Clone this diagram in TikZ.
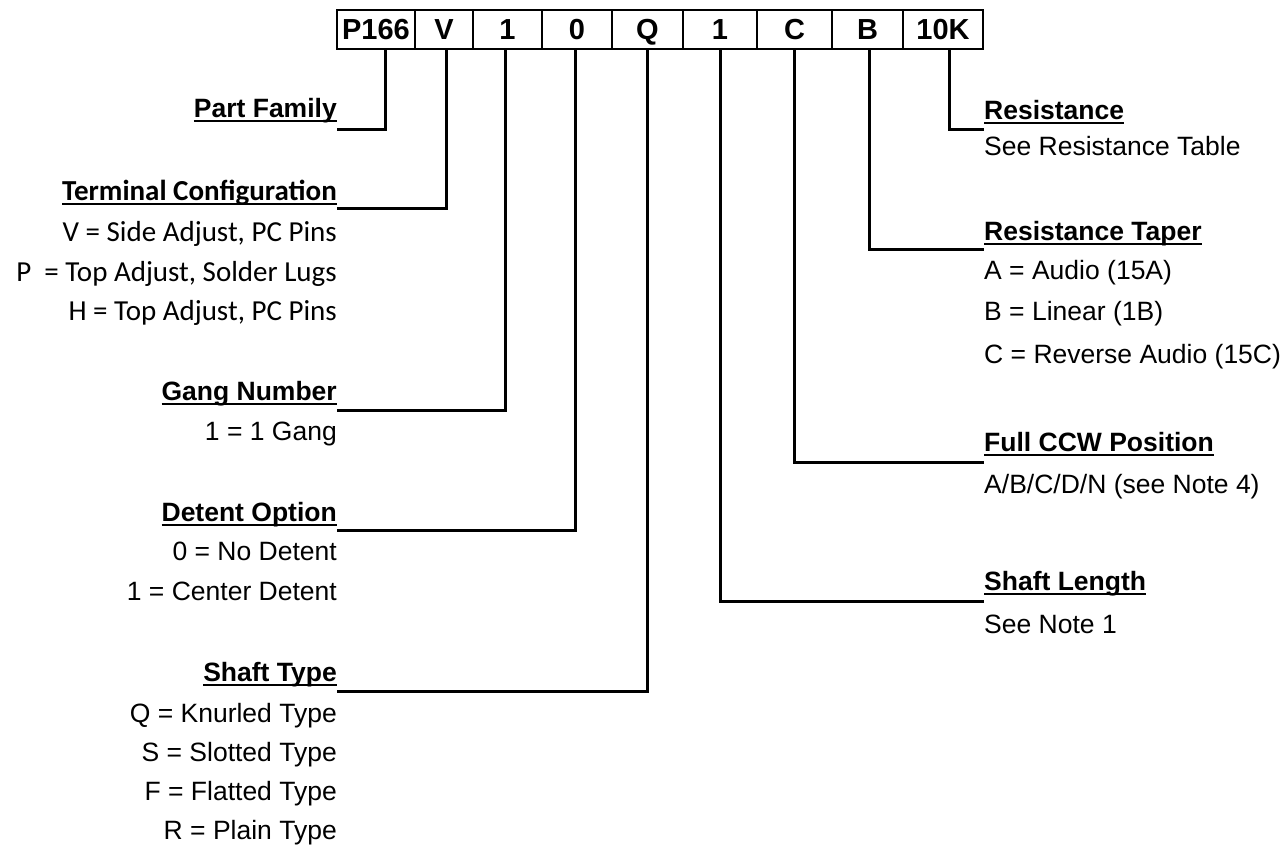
\documentclass[tikz,border=0pt]{standalone}
\usepackage{fontspec}
\setmainfont{Liberation Sans}
\newfontfamily\calibri{Carlito}
\usetikzlibrary{positioning}

% underline that cuts through descenders, like the word processor does
\newcommand{\undl}[1]{\setbox0\hbox{#1}\rlap{\rule[-4.5pt]{\wd0}{2pt}}\box0}

\tikzset{
  codebox/.style={draw, line width=2pt, outer sep=0pt, inner sep=0pt,
    minimum height=39pt, text height=20pt, text depth=0pt,
    font=\fontsize{29}{29}\selectfont\bfseries},
  lefttitle/.style={anchor=base east, inner sep=0pt, font=\fontsize{26.5}{30}\selectfont\bfseries},
  leftitem/.style={anchor=base east, inner sep=0pt, font=\fontsize{26.5}{30}\selectfont},
  righttitle/.style={anchor=base west, inner sep=0pt, font=\fontsize{26.5}{30}\selectfont\bfseries},
  rightitem/.style={anchor=base west, inner sep=0pt, font=\fontsize{26.5}{30}\selectfont},
  leader/.style={line width=3pt}
}

\begin{document}
\begin{tikzpicture}[x=1pt,y=-1pt]
\useasboundingbox (0,0) rectangle (1286,844);

% part number boxes
\node[codebox, minimum width=78pt, anchor=north west] (fam) at (337,10) {P166};
\node[codebox, minimum width=58pt, right=0pt of fam] (term) {V};
\node[codebox, minimum width=69pt, right=0pt of term] (gang) {1};
\node[codebox, minimum width=70pt, right=0pt of gang] (det) {0};
\node[codebox, minimum width=71pt, right=0pt of det] (shaft) {Q};
\node[codebox, minimum width=74pt, right=0pt of shaft] (len) {1};
\node[codebox, minimum width=75pt, right=0pt of len] (ccw) {C};
\node[codebox, minimum width=71pt, right=0pt of ccw] (taper) {B};
\node[codebox, minimum width=80pt, right=0pt of taper] (res) {10K};

% left column
\node[lefttitle] (fam-t) at (337,117) {\undl{Part Family}};

\node[lefttitle, font=\fontsize{29}{32}\selectfont\calibri\bfseries] (term-t) at (337,200) {\undl{Terminal Configuration}};
\node[leftitem, font=\fontsize{29}{32}\selectfont\calibri] (term-1) at (337,241) {V = Side Adjust, PC Pins};
\node[leftitem, font=\fontsize{29}{32}\selectfont\calibri] (term-2) at (337,281) {P\ \ = Top Adjust, Solder Lugs};
\node[leftitem, font=\fontsize{29}{32}\selectfont\calibri] (term-3) at (337,320) {H = Top Adjust, PC Pins};

\node[lefttitle] (gang-t) at (337,400) {\undl{Gang Number}};
\node[leftitem] (gang-1) at (337,440) {1 = 1 Gang};

\node[lefttitle] (det-t) at (337,521) {\undl{Detent Option}};
\node[leftitem] (det-1) at (337,560) {0 = No Detent};
\node[leftitem] (det-2) at (337,600) {1 = Center Detent};

\node[lefttitle] (shaft-t) at (337,681) {\undl{Shaft Type}};
\node[leftitem] (shaft-1) at (337,722) {Q = Knurled Type};
\node[leftitem] (shaft-2) at (337,761) {S = Slotted Type};
\node[leftitem] (shaft-3) at (337,800) {F = Flatted Type};
\node[leftitem] (shaft-4) at (337,839) {R = Plain Type};

% right column
\node[righttitle] (res-t) at (984,119) {\undl{Resistance}};
\node[rightitem] (res-1) at (984,155) {See Resistance Table};

\node[righttitle] (taper-t) at (984,240) {\undl{Resistance Taper}};
\node[rightitem] (taper-1) at (984,279) {A = Audio (15A)};
\node[rightitem] (taper-2) at (984,320) {B = Linear (1B)};
\node[rightitem] (taper-3) at (984,363) {C = Reverse Audio (15C)};

\node[righttitle] (ccw-t) at (984,451) {\undl{Full CCW Position}};
\node[rightitem] (ccw-1) at (984,493) {A/B/C/D/N (see Note 4)};

\node[righttitle] (len-t) at (984,590) {\undl{Shaft Length}};
\node[rightitem] (len-1) at (984,633) {See Note 1};

% leaders
\draw[leader] ([xshift=9pt]fam.south) |- ([yshift=-12pt]fam-t.base east);
\draw[leader] ([xshift=2pt]term.south) |- ([yshift=-8pt]term-t.base east);
\draw[leader] ([xshift=-2pt]gang.south) |- ([yshift=-10pt]gang-t.base east);
\draw[leader] ([xshift=-2pt]det.south) |- ([yshift=-9pt]det-t.base east);
\draw[leader] (shaft.south) |- ([yshift=-10pt]shaft-t.base east);
\draw[leader] (len.south) |- ([yshift=-11pt]len-t.base west);
\draw[leader] (ccw.south) |- ([yshift=-11pt]ccw-t.base west);
\draw[leader] ([xshift=2pt]taper.south) |- ([yshift=-9pt]taper-t.base west);
\draw[leader] ([xshift=6pt]res.south) |- ([yshift=-10pt]res-t.base west);

\end{tikzpicture}
\end{document}
